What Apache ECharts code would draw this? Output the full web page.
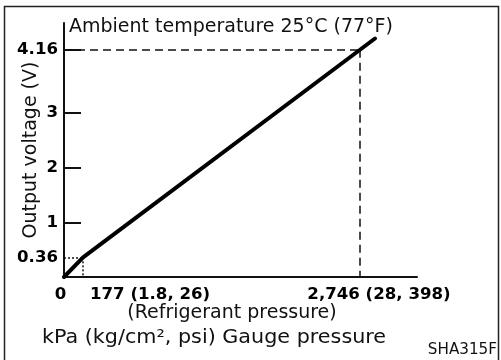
<!DOCTYPE html>
<html>
<head>
<meta charset="utf-8">
<script src="https://cdn.jsdelivr.net/npm/echarts@6/dist/echarts.min.js"></script>
<style>
  html, body { margin: 0; padding: 0; background: #fff; }
  #chart { width: 501px; height: 360px; }
</style>
</head>
<body>
<div id="chart"></div>
<script>
// Sensor output: pressure (kPa) vs output voltage (V)
const pressureKPa = [0, 177, 2746, 2885];
const outputVolts = [0, 0.36, 4.16, 4.366];

// Reference points called out on the axes
const lowPoint = [177, 0.36];
const highPoint = [2746, 4.16];

// Tick values and labels
const yTickValues = [1, 2, 3, 4.16];
const yLabelValues = [0.36, 1, 2, 3, 4.16];
const xLabelValues = [0, 177, 2746];
const xLabelText = { 0: '0', 177: '177 (1.8, 26)', 2746: '2,746 (28, 398)' };

const FONT = "'DejaVu Sans', Verdana, sans-serif";

const chart = echarts.init(document.getElementById('chart'), null, { renderer: 'canvas' });

const lineData = pressureKPa.map((p, i) => [p, outputVolts[i]]);

const boldLabel = { fontFamily: FONT, fontWeight: 'bold', fontSize: 16.6, color: '#000' };

chart.setOption({
  animation: false,
  backgroundColor: '#fff',
  grid: { left: 64, top: 23, right: 84, bottom: 83, containLabel: false, outerBoundsMode: 'none' },
  xAxis: {
    type: 'value',
    min: 0,
    max: 3275,
    axisLine: { show: true, lineStyle: { color: '#111', width: 2 } },
    axisTick: { show: false },
    splitLine: { show: false },
    axisLabel: {
      customValues: xLabelValues,
      margin: 9,
      hideOverlap: false,
      formatter: function (v) {
        if (v === 0) return '{z|0}';
        if (v === 177) return '{a|' + xLabelText[177] + '}';
        return '{b|' + xLabelText[2746] + '}';
      },
      rich: {
        z: Object.assign({ padding: [0, 7, 0, 0] }, boldLabel),
        a: Object.assign({ padding: [0, 0, 0, 134] }, boldLabel),
        b: Object.assign({ padding: [0, 0, 0, 38] }, boldLabel)
      }
    }
  },
  yAxis: {
    type: 'value',
    min: 0,
    max: 4.65,
    name: 'Output voltage (V)',
    nameLocation: 'middle',
    nameRotate: 90,
    nameGap: 23,
    nameMoveOverlap: false,
    nameTextStyle: { fontFamily: FONT, fontSize: 19, color: '#111' },
    axisLine: { show: true, lineStyle: { color: '#111', width: 2 } },
    axisTick: {
      show: true,
      inside: true,
      length: 17,
      customValues: yTickValues,
      lineStyle: { color: '#111', width: 2 }
    },
    splitLine: { show: false },
    axisLabel: Object.assign({
      customValues: yLabelValues,
      margin: 6,
      hideOverlap: false,
      formatter: function (v) { return String(v); }
    }, boldLabel)
  },
  series: [{
    type: 'line',
    data: lineData,
    showSymbol: false,
    symbol: 'none',
    silent: true,
    lineStyle: { color: '#000', width: 4, cap: 'round' },
    z: 5,
    markLine: {
      silent: true,
      symbol: 'none',
      label: { show: false },
      data: [
        [{ coord: [0, highPoint[1]], lineStyle: { type: [8, 5], width: 1.5, color: '#111' } },
         { coord: [highPoint[0], highPoint[1]] }],
        [{ coord: [highPoint[0], highPoint[1]], lineStyle: { type: [8, 5], width: 1.5, color: '#111' } },
         { coord: [highPoint[0], 0] }],
        [{ coord: [0, lowPoint[1]], lineStyle: { type: [2, 2], width: 1.5, color: '#111' } },
         { coord: [lowPoint[0], lowPoint[1]] }],
        [{ coord: [lowPoint[0], lowPoint[1]], lineStyle: { type: [2, 2], width: 1.5, color: '#111' } },
         { coord: [lowPoint[0], 0] }]
      ]
    }
  }],
  graphic: [
    {
      type: 'rect',
      silent: true,
      shape: { x: 4.5, y: 6.5, width: 494, height: 420 },
      style: { fill: 'none', stroke: '#222', lineWidth: 1.5 }
    },
    {
      type: 'text',
      silent: true,
      x: 69,
      y: 27,
      style: { text: 'Ambient temperature 25°C (77°F)', font: '19px ' + FONT, fill: '#111', align: 'left', verticalAlign: 'middle' }
    },
    {
      type: 'text',
      silent: true,
      x: 232,
      y: 313,
      style: { text: '(Refrigerant pressure)', font: '19px ' + FONT, fill: '#111', align: 'center', verticalAlign: 'middle' }
    },
    {
      type: 'text',
      silent: true,
      x: 214,
      y: 338,
      scaleX: 1.09,
      style: { text: 'kPa (kg/cm², psi) Gauge pressure', font: '19px ' + FONT, fill: '#111', align: 'center', verticalAlign: 'middle' }
    },
    {
      type: 'text',
      silent: true,
      x: 497,
      y: 350,
      style: { text: 'SHA315F', font: '15.2px ' + FONT, fill: '#111', align: 'right', verticalAlign: 'middle' }
    }
  ]
});
</script>
</body>
</html>
